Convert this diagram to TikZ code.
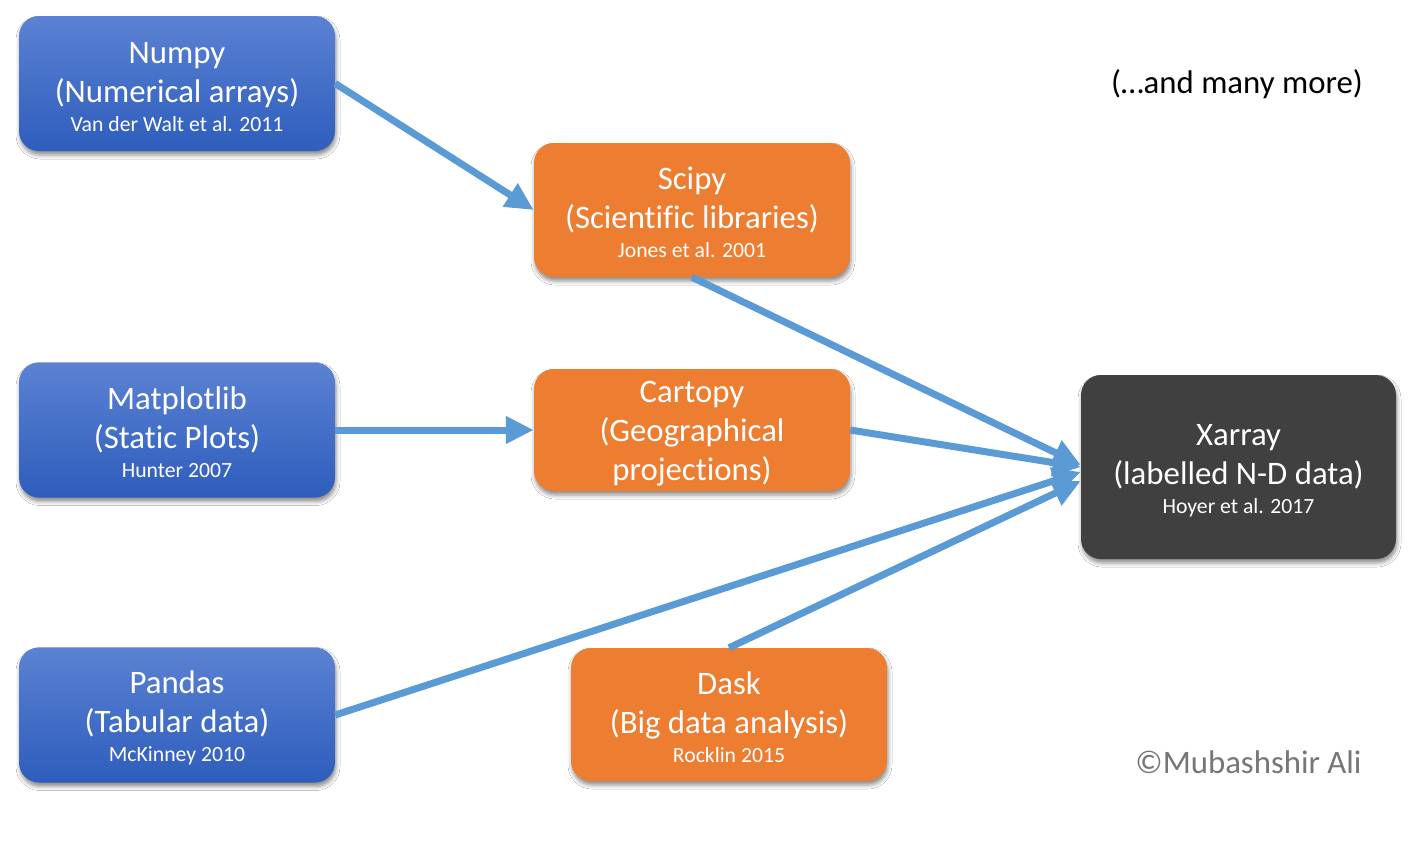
\documentclass[tikz,border=0pt]{standalone}
\usepackage{fontspec}
\setmainfont{Carlito}[Ligatures=NoCommon]
\usetikzlibrary{arrows.meta,shadows.blur,positioning}
\definecolor{bluetop}{HTML}{5B82D3}
\definecolor{bluebot}{HTML}{2E5DBC}
\definecolor{orangebox}{HTML}{ED7D31}
\definecolor{darkbox}{HTML}{404040}
\definecolor{arrowblue}{HTML}{5B9BD5}
\definecolor{copygray}{HTML}{767676}
\newcommand{\bigf}{\fontsize{32.8}{39}\selectfont}
\newcommand{\smallf}{\fontsize{21.7}{26}\selectfont}
\newcommand{\tstrut}{\rule{0pt}{28pt}}
\tikzset{
  box/.style={rounded corners=20pt, text=white, align=center, font=\bigf,
    minimum width=316pt, inner sep=0pt,
    blur shadow={shadow xshift=1pt, shadow yshift=-4pt, shadow blur radius=4pt, shadow opacity=45}},
  bluebox/.style={box, top color=bluetop, bottom color=bluebot, minimum height=135pt},
  orangebox/.style={box, fill=orangebox},
  darkbox/.style={box, fill=darkbox},
  conn/.style={draw=arrowblue, line width=7pt, -{Triangle[length=28pt,width=26pt]}},
}
\begin{document}
\begin{tikzpicture}[x=1pt,y=-1pt]
\useasboundingbox (0,0) rectangle (1425,841);
\fill[white] (0,0) rectangle (1425,841);

\node[bluebox] (numpy) at (177,83.5) {\tstrut Numpy\\(Numerical arrays)\\[-10pt]{\smallf Van der Walt et al. 2011}};
\node[bluebox] (matplotlib) at (177,430) {\tstrut Matplotlib\\(Static Plots)\\[-10pt]{\smallf Hunter 2007}};
\node[bluebox] (pandas) at (177,715) {\tstrut Pandas\\(Tabular data)\\[-10pt]{\smallf McKinney 2010}};

\node[orangebox, minimum height=134pt] (scipy) at (692,210) {\tstrut Scipy\\(Scientific libraries)\\[-10pt]{\smallf Jones et al. 2001}};
\node[orangebox, minimum height=122pt] (cartopy) at (692,430) {\tstrut Cartopy\\(Geographical\\projections)};
\node[orangebox, minimum height=133pt] (dask) at (729,714.5) {\tstrut Dask\\(Big data analysis)\\[-10pt]{\smallf Rocklin 2015}};

\node[darkbox, minimum width=315pt, minimum height=184pt] (xarray) at (1238.5,467) {\tstrut Xarray\\(labelled N-D data)\\[-10pt]{\smallf Hoyer et al. 2017}};

\node[font=\bigf, text=black] (more) at (1237,84) {(\ldots and many more)};
\node[font=\bigf, text=copygray] (copy) at (1248.5,762) {©Mubashshir Ali};

\draw[conn] (numpy.east) -- (scipy.west);
\draw[conn] (matplotlib.east) -- (cartopy.west);
\draw[conn] (scipy.south) -- ([yshift=2pt]xarray.west);
\draw[conn] (cartopy.east) -- (xarray.west);
\draw[conn] (pandas.east) -- ([yshift=-5pt]xarray.west);
\draw[conn] (dask.north) -- ([yshift=-14pt]xarray.west);
\end{tikzpicture}
\end{document}
